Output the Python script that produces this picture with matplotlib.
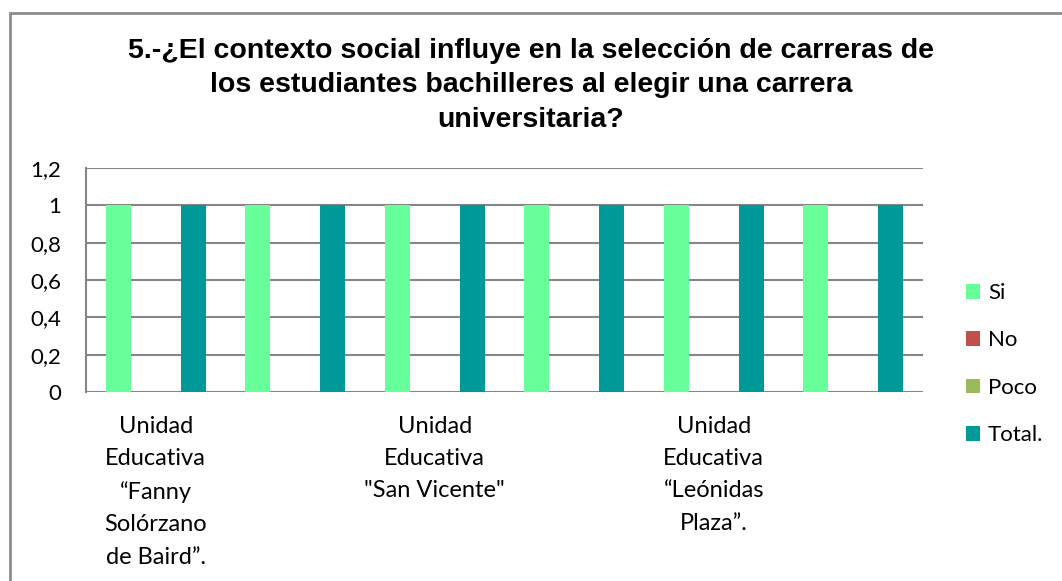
import numpy as np
import matplotlib
matplotlib.use('Agg')
import matplotlib.pyplot as plt
from matplotlib.patches import Rectangle

# datos
categorias = ['Unidad\nEducativa\n\u201cFanny\nSol\u00f3rzano\nde Baird\u201d.', '',
              'Unidad\nEducativa\n"San Vicente"', '',
              'Unidad\nEducativa\n\u201cLe\u00f3nidas\nPlaza\u201d.', '']
series = ['Si', 'No', 'Poco', 'Total.']
si = [1, 1, 1, 1, 1, 1]
no = [0, 0, 0, 0, 0, 0]
poco = [0, 0, 0, 0, 0, 0]
total = [1, 1, 1, 1, 1, 1]
yticks = [0, 0.2, 0.4, 0.6, 0.8, 1, 1.2]
ytick_labels = ['0', '0,2', '0,4', '0,6', '0,8', '1', '1,2']

colores = ['#66FF99', '#C0504D', '#9BBB59', '#009999']
grid_color = '#868686'

fig = plt.figure(figsize=(10.62, 5.81), dpi=100)
ax = fig.add_axes([86/1062, 1-392/581, (923-86)/1062, (392-168)/581])

x = np.arange(len(categorias))
w = 0.179
valores = [si, no, poco, total]
for i in range(4):
    ax.bar(x + (i - 1.5)*w, valores[i], width=w, color=colores[i],
           label=series[i], zorder=3, linewidth=0)

ax.set_xlim(-0.5, len(categorias) - 0.5)
ax.set_ylim(0, 1.2)
ax.set_yticks(yticks)
ax.set_yticklabels(ytick_labels, fontfamily='Lato', fontsize=16)
ax.set_xticks(x)
ax.set_xticklabels(categorias, fontfamily='Lato', fontsize=17, linespacing=1.67, va='top')
ax.tick_params(axis='y', length=0, pad=18)
ax.tick_params(axis='x', length=0, pad=17)

ax.grid(axis='y', color=grid_color, linewidth=1.5, zorder=0)
for s in ['top', 'right', 'bottom']:
    ax.spines[s].set_visible(False)
ax.spines['left'].set_color(grid_color)
ax.spines['left'].set_linewidth(1.5)

fig.text(0.5, 1-38/581, '5.-\u00bfEl contexto social influye en la selecci\u00f3n de carreras de\n'
         'los estudiantes bachilleres al elegir una carrera\nuniversitaria?',
         ha='center', va='top', fontfamily='Liberation Sans', fontweight='bold',
         fontsize=20.5, linespacing=1.42, transform=fig.transFigure)

leg = ax.legend(loc='center left', bbox_to_anchor=(955/1062, 1-364/581),
                bbox_transform=fig.transFigure, frameon=False, borderpad=0,
                prop={'family': 'Lato', 'size': 16}, handlelength=0.64,
                handleheight=0.64, handletextpad=0.35, labelspacing=1.23)

# borde exterior del grafico
fig.patches.append(Rectangle((10/1062, -0.1), 1.2, 1.1 - 13/581,
                             transform=fig.transFigure, fill=False,
                             edgecolor='#8C8C8C', linewidth=2))

plt.savefig('out.png', dpi=100)
